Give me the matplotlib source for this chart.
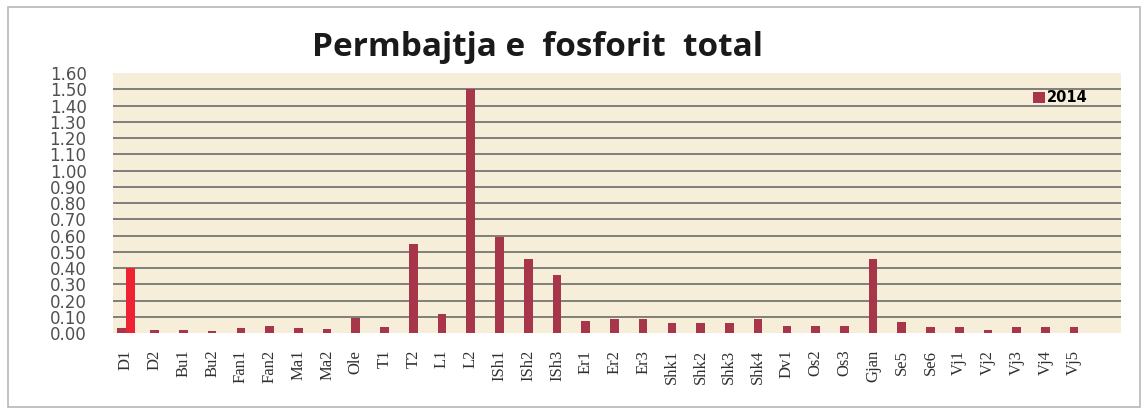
import matplotlib
matplotlib.use("Agg")
import matplotlib.pyplot as plt
import numpy as np
from matplotlib.patches import Rectangle

# stations and total phosphorus values (2014)
stations = ['D1', 'D2', 'Bu1', 'Bu2', 'Fan1', 'Fan2', 'Ma1', 'Ma2', 'Ole', 'T1',
            'T2', 'L1', 'L2', 'ISh1', 'ISh2', 'ISh3', 'Er1', 'Er2', 'Er3',
            'Shk1', 'Shk2', 'Shk3', 'Shk4', 'Dv1', 'Os2', 'Os3', 'Gjan',
            'Se5', 'Se6', 'Vj1', 'Vj2', 'Vj3', 'Vj4', 'Vj5']
p_2014 = [0.03, 0.02, 0.02, 0.015, 0.03, 0.045, 0.03, 0.025, 0.09, 0.035,
          0.55, 0.12, 1.50, 0.59, 0.455, 0.36, 0.075, 0.088, 0.088,
          0.06, 0.06, 0.06, 0.088, 0.043, 0.043, 0.043, 0.455,
          0.068, 0.04, 0.035, 0.02, 0.035, 0.04, 0.035]
# extra highlighted bar shown only for D1
p_d1_extra = [0.40]

yticks = np.arange(0, 1.61, 0.1)

fig = plt.figure(figsize=(11.46, 4.09), dpi=100)
fig.patch.set_facecolor('white')
# outer frame of the chart
fig.patches.append(Rectangle((0.007, 0.005), 0.988, 0.978, transform=fig.transFigure,
                             fill=False, edgecolor='#b8b8b8', linewidth=1.2))

ax = fig.add_axes([0.0986, 0.1858, 0.8796, 0.6357])
ax.set_facecolor('#F7EEDA')

x = np.arange(len(stations), dtype=float)
w = 0.3
xpos = x.copy()
xpos[0] -= w / 2
ax.bar(xpos, p_2014, width=w, color='#A8364A', label='2014', zorder=3)
ax.bar([x[0] + w / 2], p_d1_extra, width=w, color='#EE2233', zorder=3)

ax.set_ylim(0, 1.6)
ax.set_xlim(-0.45, 34.63)
ax.set_yticks(yticks)
ax.set_yticklabels([f'{v:.2f}' for v in yticks], fontsize=12, color='#505050',
                   family='DejaVu Sans')
ax.set_xticks(x)
ax.set_xticklabels(stations, rotation=90, fontsize=12, family='Liberation Serif',
                   color='#303030')
ax.tick_params(length=0)
ax.tick_params(axis='x', pad=12)
ax.tick_params(axis='y', pad=19)

for v in yticks[1:-1]:
    ax.axhline(v, color='#606060', linewidth=1.1, zorder=1)

for s in ax.spines.values():
    s.set_visible(False)

leg = ax.legend(loc='center left', bbox_to_anchor=(0.9, 0.905), frameon=False,
                handlelength=0.8, handleheight=0.8, handletextpad=0.1,
                prop={'family': 'DejaVu Sans', 'weight': 'bold', 'size': 10.5})

fig.text(0.469, 0.885, 'Permbajtja e  fosforit  total', ha='center', va='center',
         fontsize=24, fontweight='bold', family='Open Sans', color='#1a1a1a')

fig.savefig('out.png', dpi=100)
